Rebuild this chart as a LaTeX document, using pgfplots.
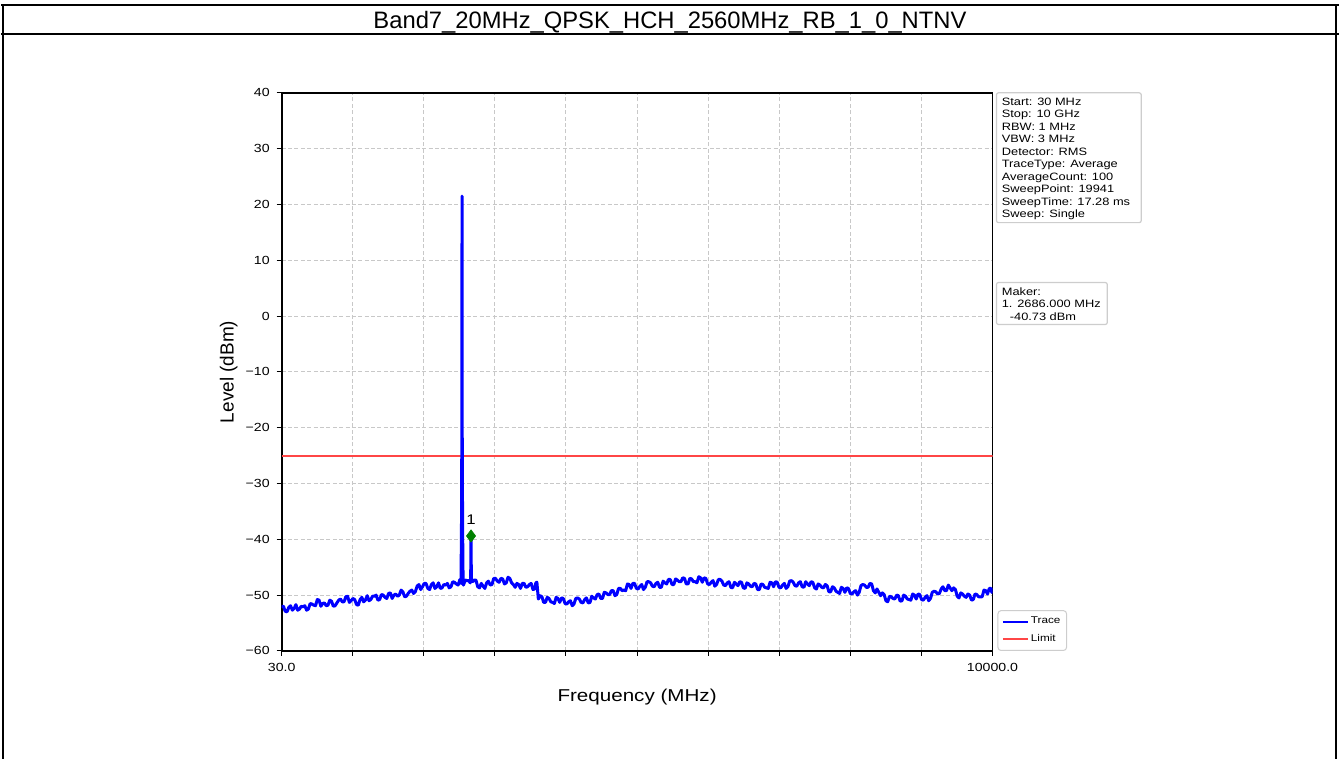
\documentclass[border=0pt]{standalone}
\usepackage{fontspec}
\setmainfont{Liberation Sans}
\newfontfamily\chartfont[FakeStretch=1.2]{Liberation Sans}
\usepackage{pgfplots}
\pgfplotsset{compat=1.18}
\definecolor{markcol}{RGB}{0,128,0}
\definecolor{gridcol}{RGB}{200,200,200}
\definecolor{boxcol}{RGB}{205,205,205}
\definecolor{limred}{RGB}{255,70,70}
\begin{document}
\begin{tikzpicture}[x=0.5bp,y=0.5bp]
\path (0,0) rectangle (1340,760);
% report frame
\draw[line width=1.1bp] (0,755) -- (1340,755);
\draw[line width=1.1bp] (2,755) -- (2,0);
\draw[line width=1.1bp] (1337,755) -- (1337,0);
\draw[line width=1.1bp] (0,726) -- (190,726);
\draw[line width=0.6bp] (190,726) -- (1160,726);
\draw[line width=1.1bp] (1160,726) -- (1340,726);
\node[anchor=base, inner sep=0, font=\fontsize{11.9bp}{14bp}\selectfont] at (670,731) {Band7\_20MHz\_QPSK\_HCH\_2560MHz\_RB\_1\_0\_NTNV};
\begin{axis}[
  at={(140.5bp,54bp)}, anchor=south west,
  scale only axis, width=356bp, height=279.5bp,
  xmin=30, xmax=10000, ymin=-60, ymax=40,
  scaled x ticks=false, scaled y ticks=false,
  xtick={30,1027,2024,3021,4018,5015,6012,7009,8006,9003,10000},
  xticklabels={30.0,,,,,,,,,,10000.0},
  ytick={-60,-50,-40,-30,-20,-10,0,10,20,30,40},
  yticklabels={−60,−50,−40,−30,−20,−10,0,10,20,30,40},
  tick pos=left, tick align=outside, major tick length=2.5bp,
  every tick/.style={black, line width=0.5bp},
  grid=major,
  major grid style={gridcol, line width=0.5bp, dash pattern=on 2bp off 1.2bp},
  axis line style={black, line width=0.9bp},
  ticklabel style={font=\chartfont\fontsize{5.9bp}{7bp}\selectfont},
  xlabel={Frequency (MHz)}, ylabel={Level (dBm)},
  xlabel style={font=\chartfont\fontsize{8.6bp}{10bp}\selectfont, at={(axis description cs:0.5,-0.0823)}, anchor=center},
  ylabel style={font=\fontsize{9.5bp}{10bp}\selectfont, at={(axis description cs:-0.0744,0.5)}, anchor=center},
  legend style={at={(axis description cs:1.007,0)}, anchor=south west,
    font=\chartfont\fontsize{4.9bp}{5.5bp}\selectfont, draw=boxcol, line width=0.5bp,
    rounded corners=1.5bp, fill=white, inner xsep=2bp, inner ysep=2bp, row sep=2bp,
    nodes={inner sep=1bp}},
  legend cell align=left,
  legend image code/.code={\draw[#1] (0bp,0bp) -- (12.5bp,0bp);},
]
\addlegendimage{draw=blue, line width=1bp}
\addlegendentry{Trace}
\addlegendimage{draw=limred, line width=1bp}
\addlegendentry{Limit}
\addplot[draw=limred, line width=1bp, forget plot] coordinates {(30,-25) (10000,-25)};
\addplot[draw=blue, line width=1.5bp, line join=round, forget plot] coordinates {
(30,-52.0) (55,-52.0) (80,-52.9) (105,-53.0) (130,-52.2) (155,-51.9) (180,-52.7) (205,-52.4)
(230,-51.7) (255,-52.7) (280,-52.5) (305,-52.0) (330,-52.1) (355,-51.9) (380,-52.7) (405,-52.5)
(430,-51.5) (455,-51.6) (480,-51.8) (505,-51.9) (530,-50.8) (555,-50.9) (580,-52.0) (605,-51.5)
(630,-51.4) (655,-51.9) (680,-51.8) (705,-50.9) (730,-51.1) (755,-52.0) (780,-51.9) (805,-51.4)
(830,-50.9) (855,-50.7) (880,-51.2) (905,-51.2) (930,-50.3) (955,-50.2) (980,-51.3) (1005,-51.0)
(1030,-50.6) (1055,-50.8) (1080,-51.7) (1105,-51.8) (1130,-50.8) (1155,-50.4) (1180,-51.2) (1205,-50.9)
(1230,-50.1) (1255,-51.0) (1280,-50.8) (1305,-50.2) (1330,-50.2) (1355,-50.0) (1380,-50.9) (1405,-50.8)
(1430,-49.9) (1455,-50.0) (1480,-50.4) (1505,-50.6) (1530,-49.7) (1555,-49.6) (1580,-50.6) (1605,-50.0)
(1630,-49.8) (1655,-50.2) (1680,-50.0) (1705,-49.1) (1730,-49.4) (1755,-50.3) (1780,-50.2) (1805,-49.7)
(1830,-49.3) (1855,-49.1) (1880,-49.7) (1905,-49.4) (1930,-48.4) (1955,-48.1) (1980,-49.0) (2005,-48.5)
(2030,-47.9) (2055,-47.9) (2080,-48.8) (2105,-49.0) (2130,-48.1) (2155,-47.8) (2180,-48.8) (2205,-48.5)
(2230,-47.8) (2255,-48.8) (2280,-48.7) (2305,-48.1) (2330,-48.2) (2355,-47.9) (2380,-48.7) (2405,-48.5)
(2430,-47.6) (2455,-47.7) (2480,-48.0) (2505,-48.2) (2530,-47.2) (2545,-47.9) (2552,-38.5) (2557,-22)
(2560,21.5) (2563,-22) (2568,-38) (2575,-47.6) (2580,-48.2) (2605,-47.3) (2630,-47.4) (2652,-47.4)
(2675,-47.8) (2681,-47.2) (2686,-39.4) (2691,-47.4) (2710,-47.6) (2730,-47.3) (2755,-47.3) (2780,-48.5)
(2805,-48.7) (2830,-47.9) (2855,-48.4) (2880,-48.8) (2905,-47.8) (2930,-47.5) (2955,-48.2) (2980,-48.1)
(3005,-47.0) (3030,-47.0) (3055,-47.5) (3080,-47.7) (3105,-47.0) (3130,-47.1) (3155,-48.0) (3180,-47.8)
(3205,-46.8) (3230,-47.0) (3255,-47.8) (3280,-48.1) (3305,-48.6) (3330,-47.9) (3355,-48.1) (3380,-48.8)
(3405,-47.9) (3430,-47.9) (3455,-48.6) (3480,-48.5) (3505,-48.1) (3530,-47.9) (3555,-49.0) (3580,-48.9)
(3595,-47.8) (3610,-47.7) (3630,-50.7) (3655,-50.1) (3680,-50.3) (3705,-51.3) (3730,-51.3) (3755,-50.4)
(3780,-50.6) (3805,-51.2) (3830,-51.3) (3855,-51.5) (3880,-50.4) (3905,-50.6) (3930,-51.3) (3955,-50.5)
(3980,-50.6) (4005,-51.5) (4030,-51.6) (4055,-51.2) (4080,-51.0) (4105,-51.9) (4130,-51.6) (4155,-50.6)
(4180,-50.5) (4205,-50.7) (4230,-51.3) (4255,-51.4) (4280,-50.8) (4305,-50.5) (4330,-51.4) (4355,-51.3)
(4380,-50.2) (4405,-50.5) (4430,-50.7) (4455,-49.9) (4480,-49.8) (4505,-50.6) (4530,-50.6) (4555,-49.5)
(4580,-49.6) (4605,-49.9) (4630,-49.9) (4655,-49.2) (4680,-49.2) (4705,-50.1) (4730,-49.9) (4755,-48.8)
(4780,-48.8) (4805,-49.2) (4830,-49.1) (4855,-49.2) (4880,-48.0) (4905,-48.1) (4930,-48.8) (4955,-47.9)
(4980,-47.9) (5005,-48.8) (5030,-48.9) (5055,-48.4) (5080,-48.1) (5105,-49.0) (5130,-48.6) (5155,-47.6)
(5180,-47.6) (5205,-47.8) (5230,-48.4) (5255,-48.5) (5280,-47.9) (5305,-47.7) (5330,-48.6) (5355,-48.6)
(5380,-47.5) (5405,-47.8) (5430,-48.0) (5455,-47.2) (5480,-47.2) (5505,-48.1) (5530,-48.1) (5555,-47.1)
(5580,-47.3) (5605,-47.6) (5630,-47.6) (5655,-46.9) (5680,-47.0) (5705,-48.0) (5730,-48.0) (5755,-47.0)
(5780,-47.1) (5805,-47.6) (5830,-47.6) (5855,-47.8) (5880,-46.7) (5905,-46.9) (5930,-47.7) (5955,-46.9)
(5980,-47.0) (6005,-48.0) (6030,-48.1) (6055,-47.7) (6080,-47.4) (6105,-48.4) (6130,-48.1) (6155,-47.2)
(6180,-47.2) (6205,-47.5) (6230,-48.2) (6255,-48.3) (6280,-47.8) (6305,-47.6) (6330,-48.6) (6355,-48.7)
(6380,-47.7) (6405,-48.0) (6430,-48.3) (6455,-47.6) (6480,-47.7) (6505,-48.7) (6530,-48.8) (6555,-47.8)
(6580,-48.0) (6605,-48.4) (6630,-48.5) (6655,-47.9) (6680,-48.0) (6705,-49.0) (6730,-49.0) (6755,-48.0)
(6780,-48.1) (6805,-48.6) (6830,-48.7) (6855,-48.8) (6880,-47.7) (6905,-47.8) (6930,-48.5) (6955,-47.6)
(6980,-47.7) (7005,-48.6) (7030,-48.7) (7055,-48.2) (7080,-47.9) (7105,-48.8) (7130,-48.5) (7155,-47.5)
(7180,-47.4) (7205,-47.7) (7230,-48.3) (7255,-48.4) (7280,-47.8) (7305,-47.6) (7330,-48.5) (7355,-48.6)
(7380,-47.6) (7405,-48.0) (7430,-48.3) (7455,-47.6) (7480,-47.7) (7505,-48.7) (7530,-48.9) (7555,-48.0)
(7580,-48.2) (7605,-48.6) (7630,-48.7) (7655,-48.1) (7680,-48.3) (7705,-49.4) (7730,-49.4) (7755,-48.5)
(7780,-48.7) (7805,-49.3) (7830,-49.5) (7855,-49.7) (7880,-48.6) (7905,-48.8) (7930,-49.5) (7955,-48.7)
(7980,-48.8) (8005,-49.7) (8030,-49.8) (8055,-49.4) (8080,-49.2) (8105,-50.0) (8130,-49.5) (8155,-48.3)
(8180,-48.1) (8205,-48.2) (8230,-48.6) (8255,-48.6) (8280,-47.9) (8305,-48.0) (8330,-49.2) (8355,-49.6)
(8380,-48.9) (8405,-49.5) (8430,-50.1) (8455,-49.6) (8480,-49.9) (8505,-51.0) (8530,-51.2) (8555,-50.2)
(8580,-50.3) (8605,-50.6) (8630,-50.7) (8655,-50.0) (8680,-50.1) (8705,-51.1) (8730,-51.0) (8755,-50.0)
(8780,-50.2) (8805,-50.7) (8830,-50.8) (8855,-50.9) (8880,-49.8) (8905,-50.0) (8930,-50.7) (8955,-49.8)
(8980,-49.9) (9005,-50.8) (9030,-50.9) (9055,-50.4) (9080,-50.1) (9105,-51.0) (9130,-50.6) (9155,-49.5)
(9180,-49.3) (9205,-49.4) (9230,-49.8) (9255,-49.7) (9280,-48.9) (9305,-48.5) (9330,-49.2) (9355,-49.2)
(9380,-48.2) (9405,-48.7) (9430,-49.2) (9455,-48.7) (9480,-49.0) (9505,-50.2) (9530,-50.5) (9555,-49.6)
(9580,-49.8) (9605,-50.2) (9630,-50.4) (9655,-49.8) (9680,-50.0) (9705,-50.9) (9730,-50.8) (9755,-49.8)
(9780,-49.9) (9805,-50.3) (9830,-50.3) (9855,-50.3) (9880,-49.1) (9905,-49.2) (9930,-49.8) (9955,-48.8)
(9980,-48.8) (9990,-49.5) (10000,-49.3)
};
\addplot[only marks, mark=diamond*, mark size=3bp, color=markcol, forget plot] coordinates {(2686,-39.4)};
\node[anchor=south, inner sep=0, font=\chartfont\fontsize{7bp}{8bp}\selectfont] at (axis cs:2686,-37.5) {1};
\end{axis}
% info boxes
\draw[boxcol, line width=0.6bp, fill=white, rounded corners=1bp] (997,667) rectangle (1142,537);
\node[anchor=north west, inner sep=0, align=left, font=\chartfont\fontsize{5.35bp}{6.25bp}\selectfont] at (1002,662.3) {Start: 30 MHz\\Stop: 10 GHz\\RBW: 1 MHz\\VBW: 3 MHz\\Detector: RMS\\TraceType: Average\\AverageCount: 100\\SweepPoint: 19941\\SweepTime: 17.28 ms\\Sweep: Single};
\draw[boxcol, line width=0.6bp, fill=white, rounded corners=1bp] (997,477) rectangle (1108,435);
\node[anchor=north west, inner sep=0, align=left, font=\chartfont\fontsize{5.35bp}{6.25bp}\selectfont] at (1002,472.3) {Maker:\\1. 2686.000 MHz\\\hspace*{4bp}-40.73 dBm};
\end{tikzpicture}
\end{document}
